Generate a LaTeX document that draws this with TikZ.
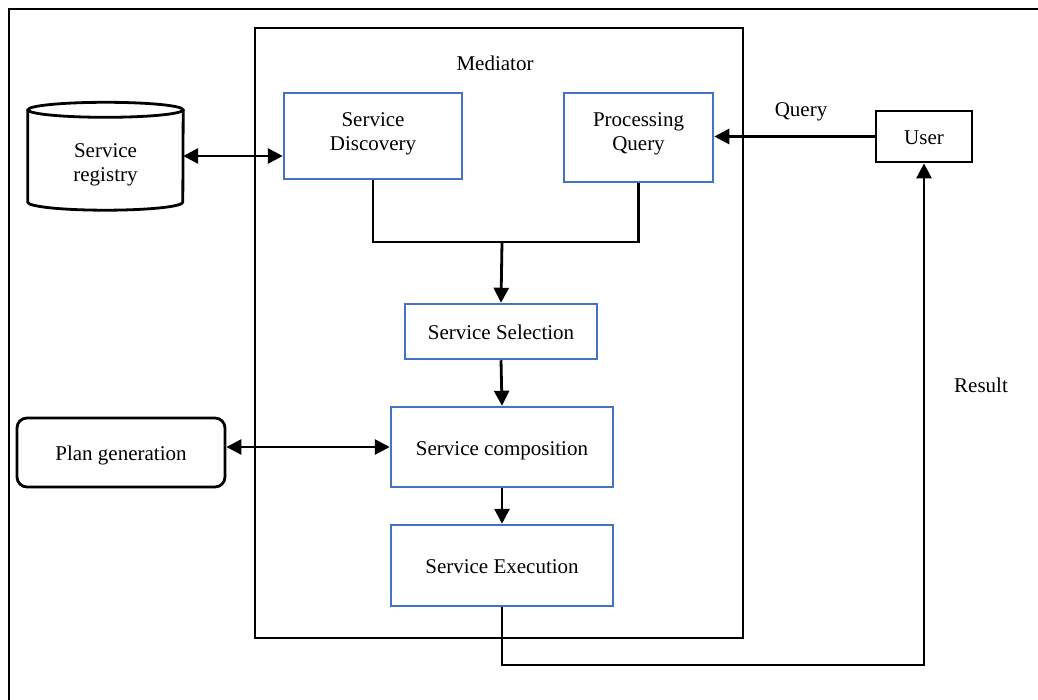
\documentclass[tikz,border=0pt]{standalone}
\usepackage{fontspec}
\setmainfont{Liberation Serif}
\usetikzlibrary{arrows.meta}
\definecolor{boxblue}{RGB}{68,114,196}
\begin{document}
\begin{tikzpicture}[x=1pt,y=-1pt,
  font=\fontsize{21}{24}\selectfont,
  blk/.style={line width=2.8pt, draw=black},
  bluebox/.style={draw=boxblue, line width=2.5pt, align=center, inner sep=0pt},
  oneline/.style={text height=19.5pt, text depth=3pt},
  twoline/.style={text height=38pt, text depth=#1},
  blackbox/.style={blk, align=center, inner sep=0pt},
  tipend/.style={-{Triangle[length=15pt,width=15pt]}},
  tipboth/.style={{Triangle[length=15pt,width=15pt]}-{Triangle[length=15pt,width=15pt]}},
  lbl/.style={inner sep=0pt}]
\useasboundingbox (0,0) rectangle (1038,700);

% outer frame (runs past the right and bottom edges)
\draw[line width=2.2pt] (9,720) -- (9,9) -- (1060,9);

% mediator container
\node[blk, minimum width=488pt, minimum height=610pt] (med) at (499,333) {};
\node[lbl] (medlbl) at (495,63) {Mediator};

% service registry (cylinder)
\node[minimum width=155pt, minimum height=92pt, inner sep=0pt] (reg) at (105.5,156) {};
\draw[blk] (reg.north west) -- (reg.south west)
  arc[start angle=180, end angle=360, x radius=77.5pt, y radius=8pt]
  -- (reg.north east);
\draw[blk] (reg.north) ellipse[x radius=77.5pt, y radius=7.5pt];
\node[lbl, align=center] (reglbl) at (105.5,165) {Service\\registry};

% blue process boxes
\node[bluebox, twoline=9pt, minimum width=178pt, minimum height=86pt] (sd) at (373,136) {Service\\Discovery};
\node[bluebox, twoline=12pt, minimum width=149pt, minimum height=89pt] (pq) at (638.5,137.5) {Processing\\Query};
\node[bluebox, oneline, minimum width=192pt, minimum height=55pt] (ss) at (501,331.5) {Service Selection};
\node[bluebox, oneline, minimum width=222pt, minimum height=80pt] (sc) at (502,447) {Service composition};
\node[bluebox, oneline, minimum width=222pt, minimum height=81pt] (se) at (502,565.5) {Service Execution};

% external boxes
\node[blackbox, oneline, minimum width=96pt, minimum height=51pt] (user) at (924,136.5) {User};
\node[blackbox, oneline, rounded corners=10pt, minimum width=208pt, minimum height=69pt] (pg) at (121,452.5) {Plan generation};

% labels
\node[lbl] (qlbl) at (801,112) {Query};
\node[lbl] (rlbl) at (981,385) {Result};

% connectors
\coordinate (join) at (502,242);
\coordinate (low) at (502,665);
\draw[blk, tipboth] (reg.east) -- (reg.east -| sd.west);
\draw[blk, tipend] (user.west) -- (user.west -| pq.east);
\draw[blk] (sd.south) |- (join) -| (pq.south);
\draw[blk, tipend] (join) -- (ss.north);
\draw[blk, tipend] (ss.south) -- (sc.north);
\draw[blk, tipend] (sc.south) -- (se.north);
\draw[blk, tipboth] (sc.west -| pg.east) -- (sc.west);
\draw[blk, tipend] (se.south) -- (low) -| (user.south);
\end{tikzpicture}
\end{document}
